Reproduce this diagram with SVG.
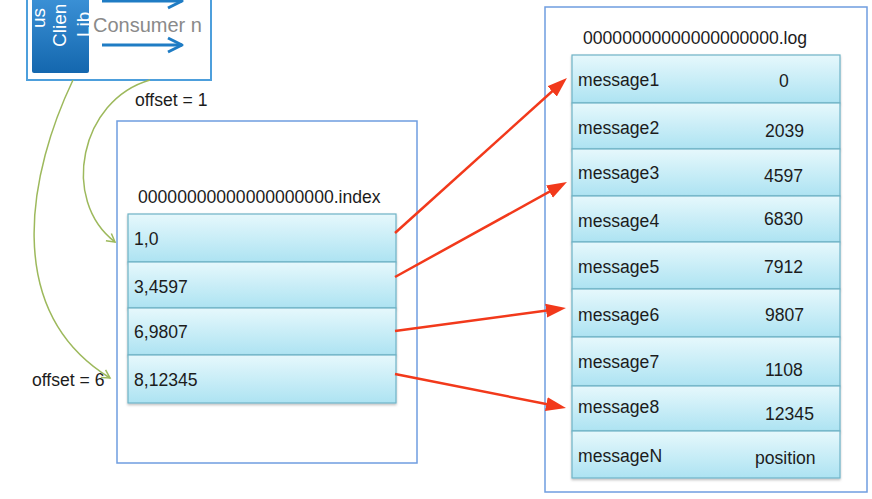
<svg xmlns="http://www.w3.org/2000/svg" width="872" height="499" viewBox="0 0 872 499">
<style>
.lbl{font-family:"Liberation Sans",Arial,sans-serif;font-size:17.6px;fill:#1c1c1c}
.cell{fill:url(#cellGrad);stroke:#6fb3c6;stroke-width:1.2;filter:url(#sh)}
.frame{fill:#fff;stroke:#6f9de0;stroke-width:1.5}
.red{stroke:#f2391b;stroke-width:2.5;fill:none;marker-end:url(#redHead)}
.green{stroke:#9db95c;stroke-width:1.5;fill:none;marker-end:url(#greenHead)}
.blue{stroke:#1f7cc4;stroke-width:3;fill:none;marker-end:url(#blueHead)}
.lib{font-family:"Liberation Sans",Arial,sans-serif;font-size:19px;fill:#fff}
</style>
<defs>
<linearGradient id="cellGrad" x1="0" y1="0" x2="0" y2="1">
<stop offset="0" stop-color="#e6f8fc"/>
<stop offset="1" stop-color="#ade3f2"/>
</linearGradient>
<linearGradient id="libGrad" x1="0" y1="0" x2="0" y2="1">
<stop offset="0" stop-color="#3f95da"/>
<stop offset="1" stop-color="#1467ae"/>
</linearGradient>
<filter id="sh" x="-5%" y="-10%" width="110%" height="130%">
<feDropShadow dx="0" dy="1.5" stdDeviation="1" flood-color="#000" flood-opacity="0.25"/>
</filter>
<clipPath id="libClip"><rect x="32" y="-10" width="57" height="83"/></clipPath>
<marker id="redHead" markerUnits="userSpaceOnUse" markerWidth="20" markerHeight="16" viewBox="0 0 20 16" refX="14" refY="8" orient="auto">
<path d="M0,1 L20,8 L0,15 Z" fill="#f2391b"/>
</marker>
<marker id="greenHead" markerUnits="userSpaceOnUse" markerWidth="12" markerHeight="12" viewBox="0 0 12 12" refX="9" refY="6" orient="auto">
<path d="M1,1.5 L9,6 L1,10.5" fill="none" stroke="#9db95c" stroke-width="1.5"/>
</marker>
<marker id="blueHead" markerUnits="userSpaceOnUse" markerWidth="20" markerHeight="18" viewBox="0 0 20 18" refX="17" refY="9" orient="auto">
<path d="M3,2 L17,9 L3,16" fill="none" stroke="#1f7cc4" stroke-width="3" stroke-linejoin="round"/>
</marker>
</defs>
<rect width="872" height="499" fill="#fff"/>

<g id="consumer">
<rect x="27" y="-10" width="184" height="90" fill="#fff" stroke="#4d9fdc" stroke-width="2"/>
<rect x="32" y="-10" width="57" height="83" rx="2" fill="url(#libGrad)"/>
<g clip-path="url(#libClip)">
<text class="lib" transform="translate(45,28) rotate(-90)">us</text>
<text class="lib" transform="translate(66,47) rotate(-90)">Clien</text>
<text class="lib" transform="translate(89.5,37) rotate(-90)">Lib</text>
</g>
<text x="93" y="32" style="font-family:'Liberation Sans',Arial,sans-serif;font-size:20px;fill:#8a8a8a">Consumer n</text>
<path class="blue" d="M102,1 L182,1"/>
<path class="blue" d="M102,45 L182,45"/>
</g>

<g id="index">
<rect class="frame" x="117" y="121" width="300" height="342"/>
<text class="lbl" x="138" y="203">00000000000000000000.index</text>
<g id="idx1"><rect class="cell" x="128" y="214" width="268" height="48"/><text class="lbl" x="134" y="245">1,0</text></g>
<g id="idx2"><rect class="cell" x="128" y="262" width="268" height="46"/><text class="lbl" x="134" y="293">3,4597</text></g>
<g id="idx3"><rect class="cell" x="128" y="308" width="268" height="47"/><text class="lbl" x="134" y="338">6,9807</text></g>
<g id="idx4"><rect class="cell" x="128" y="355" width="268" height="48"/><text class="lbl" x="134" y="386">8,12345</text></g>
</g>

<g id="log">
<rect class="frame" x="545" y="7" width="322" height="485"/>
<text class="lbl" x="583" y="44">00000000000000000000.log</text>
<g id="m1"><rect class="cell" x="572" y="55" width="268" height="48"/><text class="lbl" x="578" y="86">message1</text><text class="lbl" x="779" y="87">0</text></g>
<g id="m2"><rect class="cell" x="572" y="103" width="268" height="46"/><text class="lbl" x="578" y="134">message2</text><text class="lbl" x="765" y="137">2039</text></g>
<g id="m3"><rect class="cell" x="572" y="149" width="268" height="47"/><text class="lbl" x="578" y="179">message3</text><text class="lbl" x="764" y="182">4597</text></g>
<g id="m4"><rect class="cell" x="572" y="196" width="268" height="46"/><text class="lbl" x="578" y="227">message4</text><text class="lbl" x="764" y="225">6830</text></g>
<g id="m5"><rect class="cell" x="572" y="242" width="268" height="47"/><text class="lbl" x="578" y="273">message5</text><text class="lbl" x="764" y="273">7912</text></g>
<g id="m6"><rect class="cell" x="572" y="289" width="268" height="48"/><text class="lbl" x="578" y="321">message6</text><text class="lbl" x="765" y="321">9807</text></g>
<g id="m7"><rect class="cell" x="572" y="337" width="268" height="49"/><text class="lbl" x="578" y="368">message7</text><text class="lbl" x="765" y="376">1108</text></g>
<g id="m8"><rect class="cell" x="572" y="386" width="268" height="45"/><text class="lbl" x="578" y="413">message8</text><text class="lbl" x="765" y="420">12345</text></g>
<g id="mN"><rect class="cell" x="572" y="431" width="268" height="47"/><text class="lbl" x="578" y="462">messageN</text><text class="lbl" x="755" y="464">position</text></g>
</g>

<g id="labels">
<text class="lbl" x="135" y="106">offset = 1</text>
<text class="lbl" x="32" y="386">offset = 6</text>
</g>

<g id="connectors">
<path class="green" d="M150,80 C80,100 60,200 115,242"/>
<path class="green" d="M73,80 C30,170 0,310 110,378"/>
<path class="red" d="M395,233 L562.5,82"/>
<path class="red" d="M395,277 L561.7,184.9"/>
<path class="red" d="M395,331 L560,308.8"/>
<path class="red" d="M395,374 L560.1,406.8"/>
</g>
</svg>
